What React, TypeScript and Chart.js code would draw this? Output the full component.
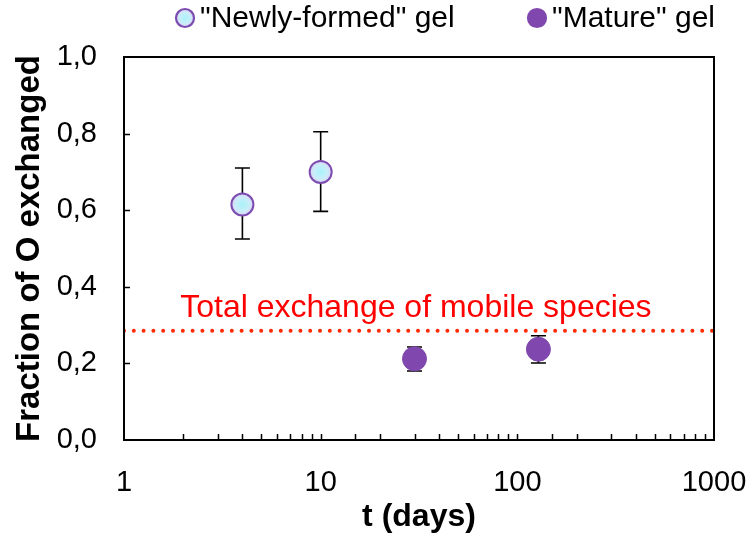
import React, { useEffect, useRef } from "react";
import { Chart, registerables } from "chart.js";

Chart.register(...registerables);

const newlyDays = [4, 10];
const newlyFrac = [0.615, 0.7];
const newlyErrLow = [0.525, 0.597];
const newlyErrHigh = [0.71, 0.805];

const matureDays = [30, 128];
const matureFrac = [0.212, 0.237];
const matureErrLow = [0.18, 0.201];
const matureErrHigh = [0.243, 0.272];

const mobileLevel = 0.285;
const mobileLabel = "Total exchange of mobile species";
const mobileLabelPos = { x: 30.5, y: 0.343 };

const legendLabels = ['"Newly-formed" gel', '"Mature" gel'];
const xMajorTicks = [1, 10, 100, 1000];

const FONT = "Arial, 'Liberation Sans', sans-serif";
const PURPLE = "#8048ae";
const PURPLE_EDGE = "#7c4cb0";
const CYAN = "#c8f0fa";

function cyanFill(chart: any, cx: number, cy: number, r: number) {
  const g = chart.ctx.createRadialGradient(cx, cy, 0, cx, cy, r);
  g.addColorStop(0, "#a8f2f8");
  g.addColorStop(0.6, "#c8eefa");
  g.addColorStop(1, "#ddd6f4");
  return g;
}

export default function App() {
  const ref = useRef<HTMLCanvasElement | null>(null);

  useEffect(() => {
    if (!ref.current) return;

    const overlay = {
      id: "overlay",
      beforeDatasetsDraw(chart: any) {
        const { ctx } = chart;
        const xs = chart.scales.x;
        const ys = chart.scales.y;
        ctx.save();
        ctx.strokeStyle = "#000";
        ctx.lineWidth = 1.6;
        const groups = [
          [newlyDays, newlyErrLow, newlyErrHigh],
          [matureDays, matureErrLow, matureErrHigh],
        ];
        groups.forEach(([d, lo, hi]) => {
          d.forEach((v: number, i: number) => {
            const px = xs.getPixelForValue(v);
            const y1 = ys.getPixelForValue(lo[i]);
            const y2 = ys.getPixelForValue(hi[i]);
            ctx.beginPath();
            ctx.moveTo(px, y1);
            ctx.lineTo(px, y2);
            ctx.moveTo(px - 7.5, y1);
            ctx.lineTo(px + 7.5, y1);
            ctx.moveTo(px - 7.5, y2);
            ctx.lineTo(px + 7.5, y2);
            ctx.stroke();
          });
        });
        ctx.restore();
      },
      afterDraw(chart: any) {
        const { ctx, chartArea } = chart;
        const xs = chart.scales.x;
        const ys = chart.scales.y;
        ctx.save();
        // ticks inward
        ctx.strokeStyle = "#000";
        ctx.lineWidth = 1.5;
        ctx.beginPath();
        xs.ticks.forEach((t: any) => {
          if (t.value <= xs.min || t.value >= xs.max) return;
          const px = Math.round(xs.getPixelForValue(t.value)) + 0.5;
          ctx.moveTo(px, chartArea.bottom);
          ctx.lineTo(px, chartArea.bottom - 6);
        });
        ys.ticks.forEach((t: any) => {
          if (t.value <= ys.min || t.value >= ys.max) return;
          const py = Math.round(ys.getPixelForValue(t.value)) + 0.5;
          ctx.moveTo(chartArea.left, py);
          ctx.lineTo(chartArea.left + 6, py);
        });
        ctx.stroke();
        // frame
        ctx.lineWidth = 2;
        ctx.strokeRect(
          chartArea.left,
          chartArea.top,
          chartArea.right - chartArea.left,
          chartArea.bottom - chartArea.top
        );
        // annotation text
        ctx.fillStyle = "#ff0000";
        ctx.font = `32px ${FONT}`;
        ctx.textAlign = "center";
        ctx.textBaseline = "middle";
        ctx.fillText(
          mobileLabel,
          xs.getPixelForValue(mobileLabelPos.x),
          ys.getPixelForValue(mobileLabelPos.y)
        );
        // legend
        ctx.font = `30px ${FONT}`;
        ctx.textAlign = "left";
        const items = [
          { cx: 185, fill: "c", edge: PURPLE_EDGE, label: legendLabels[0] },
          { cx: 537, fill: PURPLE, edge: PURPLE, label: legendLabels[1] },
        ];
        items.forEach((it) => {
          ctx.beginPath();
          ctx.arc(it.cx, 18, 9, 0, Math.PI * 2);
          ctx.fillStyle = it.fill === "c" ? cyanFill(chart, it.cx, 18, 9) : it.fill;
          ctx.fill();
          ctx.lineWidth = 2.2;
          ctx.strokeStyle = it.edge;
          ctx.stroke();
          ctx.fillStyle = "#000";
          ctx.fillText(it.label, it.cx + 15, 19);
        });
        ctx.restore();
      },
    };

    const chart = new Chart(ref.current, {
      type: "scatter",
      data: {
        datasets: [
          {
            label: legendLabels[0],
            data: newlyDays.map((d, i) => ({ x: d, y: newlyFrac[i] })),
            pointRadius: 11,
            pointHoverRadius: 11,
            backgroundColor: (c: any) => {
              const ch = c.chart;
              if (!c.parsed || !ch.scales || !ch.scales.x || !ch.chartArea) return CYAN;
              const px = ch.scales.x.getPixelForValue(c.parsed.x);
              const py = ch.scales.y.getPixelForValue(c.parsed.y);
              if (!isFinite(px) || !isFinite(py)) return CYAN;
              return cyanFill(ch, px, py, 11);
            },
            borderColor: PURPLE_EDGE,
            borderWidth: 2,
          },
          {
            label: legendLabels[1],
            data: matureDays.map((d, i) => ({ x: d, y: matureFrac[i] })),
            pointRadius: 12,
            pointHoverRadius: 12,
            backgroundColor: PURPLE,
            borderColor: PURPLE,
            borderWidth: 1,
          },
          {
            label: mobileLabel,
            data: [
              { x: 1, y: mobileLevel },
              { x: 1000, y: mobileLevel },
            ],
            showLine: true,
            pointRadius: 0,
            borderColor: "#ff2a00",
            borderWidth: 4,
            borderDash: [0, 9.8],
            borderCapStyle: "round",
          },
        ],
      },
      options: {
        responsive: false,
        animation: false,
        events: [],
        layout: { padding: { top: 57, right: 37, left: 0, bottom: 0 } },
        plugins: { legend: { display: false }, tooltip: { enabled: false } },
        scales: {
          x: {
            type: "logarithmic",
            min: 1,
            max: 1000,
            grid: { display: false, drawTicks: false },
            border: { display: false },
            ticks: {
              autoSkip: false,
              maxRotation: 0,
              padding: 26,
              color: "#000",
              font: { family: FONT, size: 29 },
              callback: (v: any) =>
                xMajorTicks.includes(Number(v)) ? String(v) : "",
            },
            title: {
              display: true,
              text: "t (days)",
              color: "#000",
              font: { family: FONT, size: 32, weight: "bold" },
              padding: { top: 0, bottom: 6 },
            },
            afterFit: (s: any) => {
              s.height = 102;
              s.paddingLeft = 0;
              s.paddingRight = 0;
            },
          },
          y: {
            min: 0,
            max: 1,
            grid: { display: false, drawTicks: false },
            border: { display: false },
            ticks: {
              stepSize: 0.2,
              padding: 27,
              color: "#000",
              font: { family: FONT, size: 29 },
              callback: (v: any) => Number(v).toFixed(1).replace(".", ","),
            },
            title: {
              display: true,
              text: "Fraction of O exchanged",
              color: "#000",
              font: { family: FONT, size: 33, weight: "bold" },
              padding: { top: 10, bottom: 0 },
            },
            afterFit: (s: any) => {
              s.width = 124;
              s.paddingTop = 0;
              s.paddingBottom = 0;
            },
          },
        },
      },
      plugins: [overlay],
    } as any);

    return () => chart.destroy();
  }, []);

  return (
    <div style={{ position: "absolute", left: 0, top: 0, width: 751, height: 542 }}>
      <canvas ref={ref} width={751} height={542} />
    </div>
  );
}
